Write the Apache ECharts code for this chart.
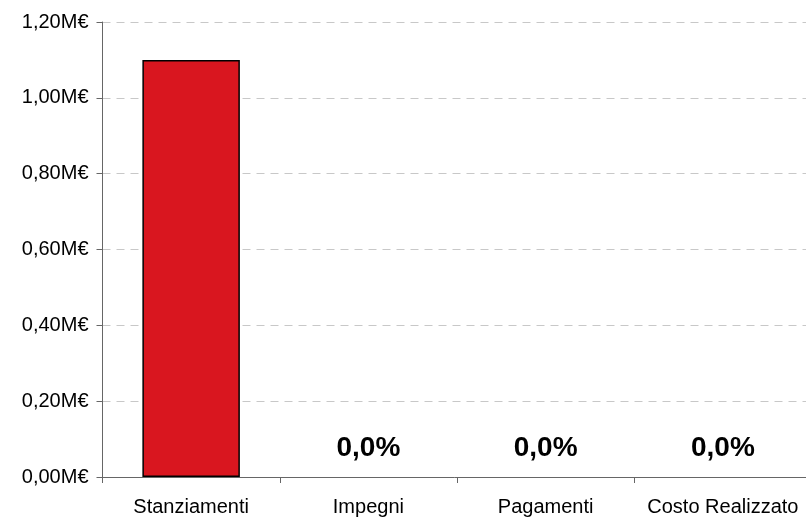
<!DOCTYPE html>
<html>
<head>
<meta charset="utf-8">
<script src="https://cdn.jsdelivr.net/npm/echarts@6/dist/echarts.min.js"></script>
<style>html,body{margin:0;padding:0;background:#fff}#c{width:806px;height:520px}</style>
</head>
<body>
<div id="c"></div>
<script>
const categories = ['Stanziamenti', 'Impegni', 'Pagamenti', 'Costo Realizzato'];
const values = [1100000, 0, 0, 0];
const pctLabels = ['', '0,0%', '0,0%', '0,0%'];

const chart = echarts.init(document.getElementById('c'), null, {renderer: 'canvas'});
chart.setOption({
  animation: false,
  backgroundColor: '#ffffff',
  grid: {left: 102.5, width: 709, top: 22, bottom: 43, containLabel: false, outerBoundsMode: 'none'},
  xAxis: {
    type: 'category',
    data: categories,
    boundaryGap: true,
    axisLine: {lineStyle: {color: '#666666', width: 1}},
    axisTick: {show: true, length: 6, alignWithLabel: false, lineStyle: {color: '#666666'}},
    axisLabel: {fontFamily: 'Liberation Sans', fontSize: 20, color: '#000', margin: 20, interval: 0}
  },
  yAxis: {
    type: 'value',
    min: 0, max: 1200000, interval: 200000,
    axisLine: {show: true, lineStyle: {color: '#666666', width: 1}},
    axisTick: {show: true, length: 6, lineStyle: {color: '#666666'}},
    splitLine: {show: true, lineStyle: {color: '#c8c8c8', type: [8, 6], width: 1}},
    axisLabel: {
      fontFamily: 'Liberation Sans', fontSize: 20, color: '#000', margin: 14,
      formatter: v => (v / 1e6).toFixed(2).replace('.', ',') + 'M€'
    }
  },
  series: [{
    type: 'bar',
    barWidth: '55%',
    data: values.map((v, i) => ({
      value: v,
      label: {formatter: pctLabels[i]},
      itemStyle: {borderWidth: v === 0 ? 0 : 1.5}
    })),
    itemStyle: {color: '#D9161F', borderColor: '#000', borderWidth: 1.5},
    label: {
      show: true, position: 'top', distance: 15,
      fontFamily: 'Liberation Sans', fontSize: 28, fontWeight: 'bold', color: '#000'
    }
  }]
});
</script>
</body>
</html>
